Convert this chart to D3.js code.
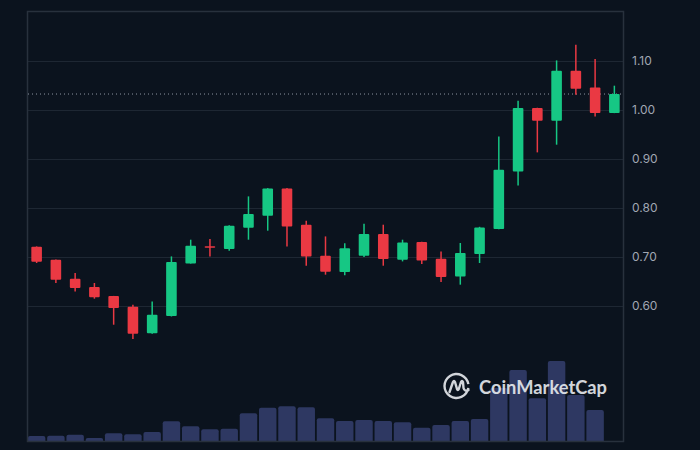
<!DOCTYPE html>
<html>
<head>
<meta charset="utf-8">
<script src="https://cdn.jsdelivr.net/npm/d3@7/dist/d3.min.js"></script>
<style>
  html, body { margin: 0; padding: 0; background: #0b131e; }
  svg { display: block; }
</style>
</head>
<body>
<div id="chart"></div>
<script>
// ---- data ----
const opens  = [0.7204,0.6939,0.6551,0.6382,0.6198,0.5980,0.5439,0.5790,0.6863,0.7214,0.7157,0.7592,0.7837,0.8394,0.7653,0.7020,0.6690,0.7020,0.7463,0.6939,0.7300,0.6959,0.6598,0.7055,0.7565,0.8741,1.0035,0.9776,1.0796,1.0455,0.9933];
const highs  = [0.7210,0.6945,0.6667,0.6463,0.6200,0.6020,0.6088,0.7006,0.7347,0.7361,0.7640,0.8231,0.8400,0.8400,0.7735,0.7414,0.7276,0.7673,0.7653,0.7347,0.7306,0.7108,0.7280,0.7610,0.9455,1.0184,1.0040,1.1006,1.1327,1.1035,1.0490];
const lows   = [0.6871,0.6463,0.6292,0.6143,0.5612,0.5320,0.5430,0.5780,0.6860,0.7006,0.7122,0.7347,0.7531,0.7210,0.6816,0.6633,0.6622,0.6994,0.6816,0.6904,0.6851,0.6484,0.6429,0.6871,0.7560,0.8455,0.9129,0.9286,1.0306,0.9863,0.9930];
const closes = [0.6898,0.6531,0.6361,0.6170,0.5953,0.5429,0.5816,0.6892,0.7224,0.7194,0.7633,0.7871,0.8394,0.7618,0.7006,0.6694,0.7173,0.7463,0.6953,0.7292,0.6924,0.6586,0.7076,0.7598,0.8776,1.0035,0.9776,1.0796,1.0429,0.9933,1.0320];
const volumes = [5.0,5.3,6.3,3.0,7.7,6.7,9.0,19.7,14.7,11.7,12.3,27.7,33.3,34.7,33.7,22.7,20.0,21.0,20.0,18.7,13.3,16.0,20.0,22.0,53.0,71.0,42.7,80.0,46.0,31.0,0];
const priceTicks = [0.60,0.70,0.80,0.90,1.00,1.10];
const currentPrice = 1.032;
const brandText = "CoinMarketCap";

// ---- layout ----
const W = 700, H = 450;
const plot = {left: 27, right: 624, top: 11, bottom: 441};
const colors = {bg: "#0b131e", up: "#16c784", down: "#ea3943", vol: "#2e3862",
  grid: "#1e2733", frame: "#28313d", tick: "#a1a7b3", dotted: "#8d96a3"};

const idx = d3.range(opens.length);
const x = d3.scaleBand().domain(idx).range([plot.left, plot.right]).paddingInner(0).paddingOuter(0);
const y = d3.scaleLinear().domain([0.6, 1.1]).range([305.7, 60.7]);
const yv = d3.scaleLinear().domain([0, 100]).range([plot.bottom, plot.bottom - 100]);

const svg = d3.select("#chart").append("svg").attr("width", W).attr("height", H);
svg.append("rect").attr("width", W).attr("height", H).attr("fill", colors.bg);

// grid lines
svg.append("g").selectAll("line").data(priceTicks).join("line")
  .attr("x1", plot.left).attr("x2", plot.right)
  .attr("y1", d => Math.round(y(d)) + 0.5).attr("y2", d => Math.round(y(d)) + 0.5)
  .attr("stroke", colors.grid).attr("stroke-width", 1);

// right axis
const axis = d3.axisRight(y).tickValues(priceTicks).tickFormat(d3.format(".2f")).tickSize(0).tickPadding(8);
const ag = svg.append("g").attr("transform", `translate(${plot.right},0)`).call(axis);
ag.select(".domain").remove();
ag.selectAll("text").attr("fill", colors.tick).attr("font-family", "Inter, 'Noto Sans', sans-serif").attr("font-size", 12);

// clip for volume
svg.append("clipPath").attr("id", "vclip").append("rect")
  .attr("x", plot.left).attr("y", plot.top).attr("width", plot.right - plot.left).attr("height", plot.bottom - plot.top);

// volume bars
const bw = x.bandwidth();
svg.append("g").attr("clip-path", "url(#vclip)").selectAll("rect").data(idx.filter(i => volumes[i] > 0)).join("rect")
  .attr("x", i => x(i) + 0.9).attr("width", bw - 1.8)
  .attr("y", i => yv(volumes[i])).attr("height", i => plot.bottom - yv(volumes[i]) + 4)
  .attr("rx", 2).attr("fill", colors.vol);

// watermark
const wm = svg.append("g").attr("transform", "translate(456.5,386)").attr("opacity", 0.9);
wm.append("path")
  .attr("d", d3.arc()({innerRadius: 10.8, outerRadius: 13.2, startAngle: 0.55 * Math.PI, endAngle: 2.45 * Math.PI}))
  .attr("fill", "#e8ebef");
wm.append("path")
  .attr("d", "M-7,6 L-3.5,-4 Q-2.5,-6 -1.5,-4 L0.5,3 Q1.3,5 2.3,3 L4.5,-4 Q5.5,-6 6.5,-4 L7,2 Q8,6 12,4")
  .attr("fill", "none").attr("stroke", "#e8ebef").attr("stroke-width", 2.4).attr("stroke-linecap", "round").attr("stroke-linejoin", "round");
svg.append("text").attr("x", 479).attr("y", 393.5).text(brandText)
  .attr("fill", "#e8ebef").attr("opacity", 0.9).attr("font-family", "Lato, 'Open Sans', sans-serif")
  .attr("font-weight", 700).attr("font-size", 19.5).attr("textLength", 128).attr("lengthAdjust", "spacingAndGlyphs");

// frame
svg.append("rect").attr("x", plot.left + 0.5).attr("y", plot.top + 0.5)
  .attr("width", plot.right - plot.left - 1).attr("height", plot.bottom - plot.top)
  .attr("fill", "none").attr("stroke", colors.frame).attr("stroke-width", 1.5);

// current price dotted line
svg.append("line").attr("x1", plot.left + 1).attr("x2", plot.right - 1)
  .attr("y1", y(currentPrice)).attr("y2", y(currentPrice))
  .attr("stroke", colors.dotted).attr("stroke-width", 1).attr("stroke-dasharray", "1,3");

// candles
const cg = svg.append("g");
const col = i => closes[i] >= opens[i] ? colors.up : colors.down;
cg.selectAll("line").data(idx).join("line")
  .attr("x1", i => x(i) + bw / 2).attr("x2", i => x(i) + bw / 2)
  .attr("y1", i => y(highs[i])).attr("y2", i => y(lows[i]))
  .attr("stroke", col).attr("stroke-width", 1.5);
const bodyW = 10.6;
cg.selectAll("rect").data(idx).join("rect")
  .attr("x", i => x(i) + bw / 2 - bodyW / 2).attr("width", bodyW)
  .attr("y", i => y(Math.max(opens[i], closes[i])))
  .attr("height", i => Math.max(1.5, Math.abs(y(opens[i]) - y(closes[i]))))
  .attr("rx", 1).attr("fill", col);
</script>
</body>
</html>
